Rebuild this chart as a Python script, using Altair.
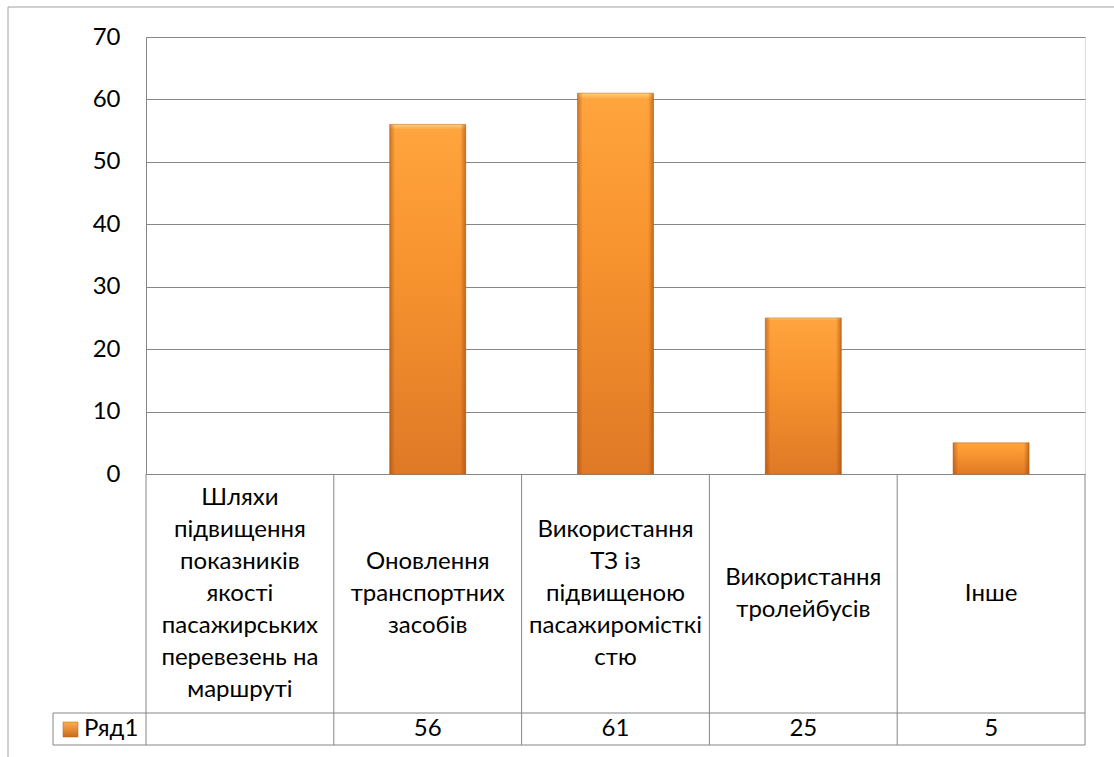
import altair as alt
import pandas as pd

categories = [
    "Шляхи\nпідвищення\nпоказників\nякості\nпасажирських\nперевезень на\nмаршруті",
    "Оновлення\nтранспортних\nзасобів",
    "Використання\nТЗ із\nпідвищеною\nпасажиромісткі\nстю",
    "Використання\nтролейбусів",
    "Інше",
]
values = [None, 56, 61, 25, 5]
series_name = "Ряд1"
y_ticks = [0, 10, 20, 30, 40, 50, 60, 70]

df = pd.DataFrame({
    "cat": categories,
    "value": values,
    "label": ["" if v is None else str(v) for v in values],
})

FONT = "Lato"
GRID = "#868686"
W, H = 939, 437
TABLE_HEAD_BOTTOM = 676
TABLE_BOTTOM = 708
LEGEND_LEFT = -93
LINE_H = 32
HEAD_CENTER = 557

xs = alt.X("cat:N", sort=categories, axis=None,
           scale=alt.Scale(paddingInner=0, paddingOuter=0))

base = alt.Chart(df)

bar_fill = alt.Gradient(
    gradient="linear", x1=0, y1=0, x2=0, y2=1,
    stops=[
        alt.GradientStop(offset=0, color="#FFD27A"),
        alt.GradientStop(offset=0.015, color="#FFA43E"),
        alt.GradientStop(offset=0.4, color="#F8942F"),
        alt.GradientStop(offset=1, color="#E07926"),
    ],
)
edge_fill = alt.Gradient(
    gradient="linear", x1=0, y1=0, x2=1, y2=0,
    stops=[
        alt.GradientStop(offset=0, color="rgba(140,60,5,0.45)"),
        alt.GradientStop(offset=0.07, color="rgba(140,60,5,0)"),
        alt.GradientStop(offset=0.93, color="rgba(140,60,5,0)"),
        alt.GradientStop(offset=1, color="rgba(140,60,5,0.5)"),
    ],
)

bars = base.mark_bar(width=76, fill=bar_fill, stroke="#C8691E", strokeWidth=0.6).encode(
    x=xs,
    y=alt.Y("value:Q", scale=alt.Scale(domain=[0, 70]),
            axis=alt.Axis(values=y_ticks, title=None, ticks=False, labelPadding=26,
                          labelFont=FONT, labelFontSize=24, labelColor="#000000",
                          grid=True, gridColor=GRID, domainColor=GRID)),
)
bars_edge = base.mark_bar(width=76, fill=edge_fill).encode(x=xs, y="value:Q")

cat_text = base.transform_calculate(
    ty=f"{HEAD_CENTER} - (length(split(datum.cat, '\\n')) - 1) * {LINE_H / 2}"
).mark_text(font=FONT, fontSize=24, lineBreak="\n", lineHeight=LINE_H,
            baseline="middle", align="center", color="#000000").encode(
    x=xs, y=alt.Y("ty:Q", scale=None, axis=None), text="cat:N")

val_text = base.mark_text(font=FONT, fontSize=24, baseline="middle", align="center",
                          color="#000000").encode(
    x=xs, y=alt.value(692), text="label:N")

vlines = base.mark_rule(color=GRID, strokeWidth=1).encode(
    x=alt.X("cat:N", sort=categories, bandPosition=0, axis=None,
            scale=alt.Scale(paddingInner=0, paddingOuter=0)),
    y=alt.value(H), y2=alt.value(TABLE_BOTTOM))

one = alt.Chart(alt.Data(values=[{}]))
right_line = one.mark_rule(color=GRID).encode(
    x=alt.value(W), y=alt.value(H), y2=alt.value(TABLE_BOTTOM))
h1 = one.mark_rule(color=GRID).encode(
    x=alt.value(LEGEND_LEFT), x2=alt.value(W), y=alt.value(TABLE_HEAD_BOTTOM))
h2 = one.mark_rule(color=GRID).encode(
    x=alt.value(LEGEND_LEFT), x2=alt.value(W), y=alt.value(TABLE_BOTTOM))
leg_left = one.mark_rule(color=GRID).encode(
    x=alt.value(LEGEND_LEFT), y=alt.value(TABLE_HEAD_BOTTOM), y2=alt.value(TABLE_BOTTOM))
frame_left = one.mark_rule(color="#A0A0A0").encode(
    x=alt.value(-138), y=alt.value(-30), y2=alt.value(720))
frame_top = one.mark_rule(color="#A0A0A0").encode(
    x=alt.value(-138), x2=alt.value(968), y=alt.value(-30))

legend_fill = alt.Gradient(
    gradient="linear", x1=0, y1=0, x2=0, y2=1,
    stops=[
        alt.GradientStop(offset=0, color="#FFB04A"),
        alt.GradientStop(offset=1, color="#C96A1E"),
    ],
)
legend_sym = alt.Chart(alt.Data(values=[{"s": series_name}])).mark_rect(
    fill=legend_fill, stroke="#B85E18", strokeWidth=0.5).encode(
    x=alt.value(-83), x2=alt.value(-68), y=alt.value(685), y2=alt.value(700))
legend_txt = alt.Chart(alt.Data(values=[{"s": series_name}])).mark_text(
    font=FONT, fontSize=24, align="left", baseline="middle", color="#000000").encode(
    x=alt.value(-62), y=alt.value(692), text="s:N")

chart = alt.layer(
    frame_left, frame_top, vlines, right_line, h1, h2, leg_left,
    bars, bars_edge, cat_text, val_text, legend_sym, legend_txt,
).properties(
    width=W, height=H,
    autosize=alt.AutoSizeParams(type="none"),
    padding={"left": 146, "top": 37, "right": 29, "bottom": 283},
).configure_view(stroke=None).configure(background="#FFFFFF")

chart.save("out.html", embed_options={"renderer": "svg", "actions": False})
